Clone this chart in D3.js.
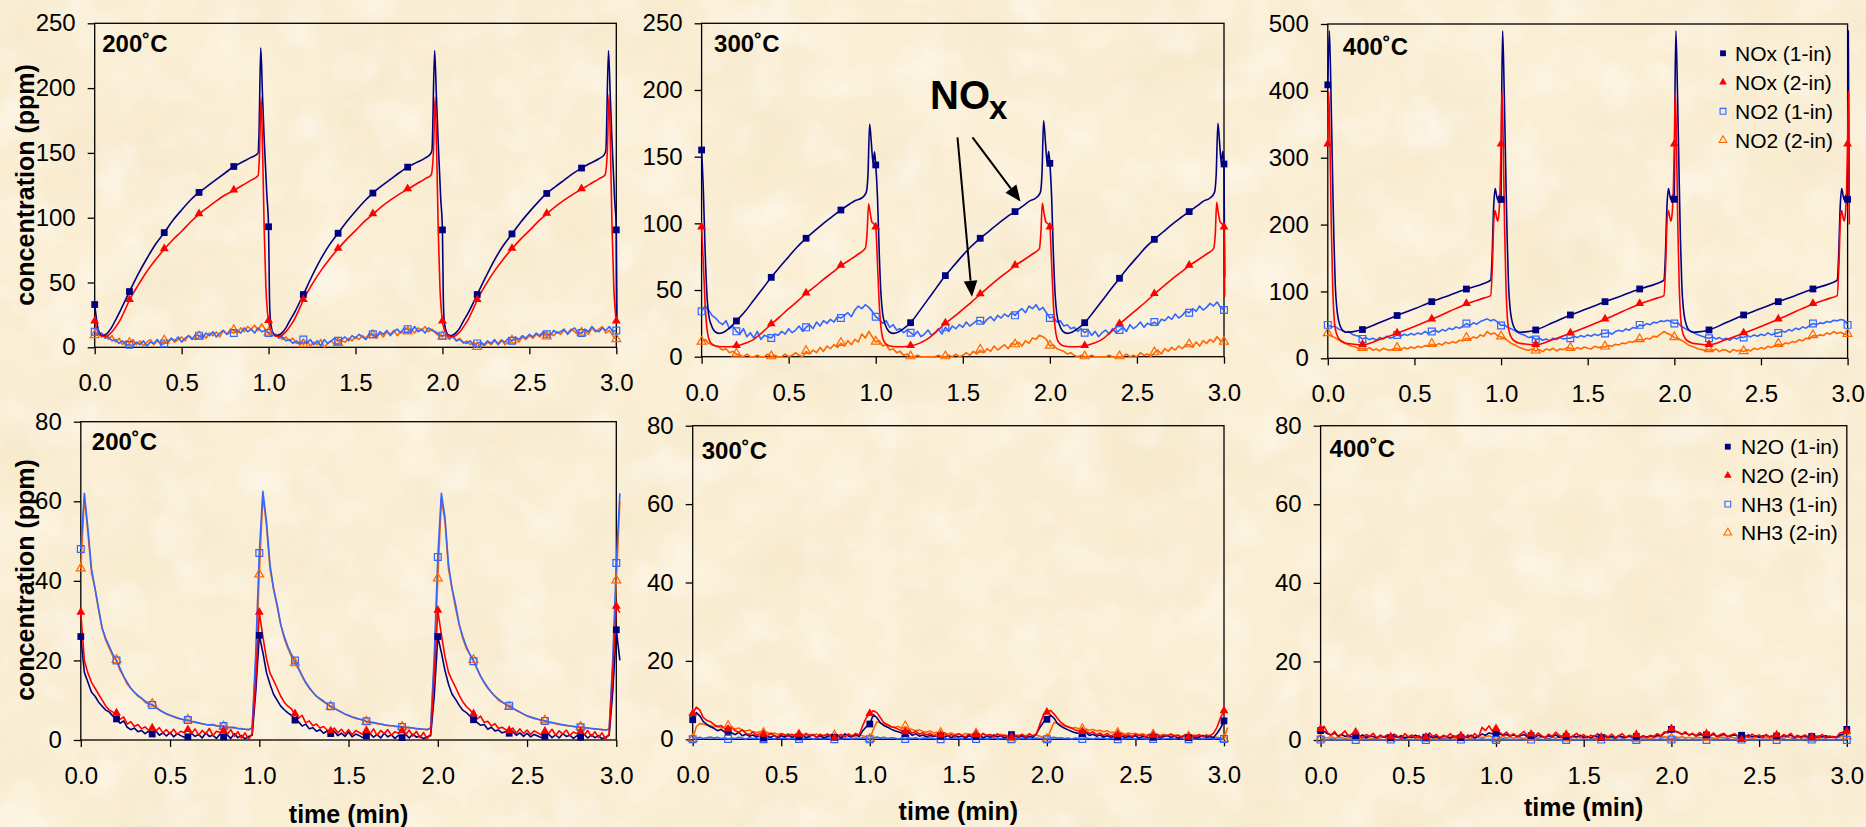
<!DOCTYPE html>
<html><head><meta charset="utf-8">
<script src="https://cdn.jsdelivr.net/npm/d3@7"></script>
<style>
body{margin:0;background:#FAEED4}
svg{display:block}
text{font-family:"Liberation Sans",Arial,sans-serif}
</style>
</head><body>
<svg id="c" width="1866" height="827"></svg>
<script>
// ---------------- DATA ----------------
const xTicks = [0.0, 0.5, 1.0, 1.5, 2.0, 2.5, 3.0];
const yTicksTop = [0, 50, 100, 150, 200, 250];
const yTicks400 = [0, 100, 200, 300, 400, 500];
const yTicksBottom = [0, 20, 40, 60, 80];
const titles = ["200˚C", "300˚C", "400˚C", "200˚C", "300˚C", "400˚C"];
const legendTop = ["NOx (1-in)", "NOx (2-in)", "NO2 (1-in)", "NO2 (2-in)"];
const legendBottom = ["N2O (1-in)", "N2O (2-in)", "NH3 (1-in)", "NH3 (2-in)"];

// --- 200C NOx (time, ppm) ---
const nox1_200 = [[0,33],[0.01,22],[0.02,14],[0.03,10.5],[0.045,9],[0.06,9.5],[0.08,12],[0.1,16],[0.12,21],[0.15,29],[0.2,43],[0.25,56.5],[0.3,68.5],[0.35,79.5],[0.4,88.5],[0.45,98],[0.5,106],[0.55,113.5],[0.6,119.5],[0.65,124.5],[0.7,129.5],[0.75,134.5],[0.8,139.5],[0.85,143],[0.9,146.5],[0.94,150],[0.945,165],[0.955,231],[0.965,195],[0.975,160],[0.99,118],[1.0,93],
 [1.005,40],[1.01,22],[1.02,13],[1.03,10],[1.045,9],[1.06,9.5],[1.08,11.5],[1.1,15],[1.12,20],[1.15,27],[1.2,40.7],[1.25,55],[1.3,68],[1.35,79],[1.4,88],[1.45,97],[1.5,105],[1.55,112.5],[1.6,119],[1.65,124.5],[1.7,129.5],[1.75,134.5],[1.8,139],[1.85,142.5],[1.9,146],[1.93,149],[1.94,152],[1.955,229],[1.965,195],[1.975,160],[1.99,115],[2.0,90.6],
 [2.005,38],[2.01,21],[2.02,13],[2.03,10],[2.045,9],[2.06,9.5],[2.08,11.5],[2.1,15],[2.12,20],[2.15,27],[2.2,40.7],[2.25,54.5],[2.3,67.5],[2.35,78.5],[2.4,87.5],[2.45,96.5],[2.5,104.5],[2.55,112],[2.6,118.7],[2.65,124],[2.7,129],[2.75,134],[2.8,138.3],[2.85,142],[2.9,145.5],[2.93,148.5],[2.94,152],[2.955,229],[2.965,195],[2.975,160],[2.99,115],[3.0,90.6],[3.004,20]];
const nox2_200 = [[0,20],[0.01,15],[0.025,10.5],[0.045,8.5],[0.065,8.5],[0.08,9.5],[0.1,12],[0.125,16.5],[0.15,22],[0.175,29],[0.2,36.5],[0.25,48],[0.3,58.5],[0.35,67.5],[0.4,75.7],[0.45,83],[0.5,89.5],[0.55,96.5],[0.6,102.7],[0.65,108],[0.7,113],[0.75,117.5],[0.8,121],[0.85,125],[0.9,129],[0.94,132.5],[0.948,150],[0.957,193],[0.966,150],[0.975,90],[0.985,45],[0.993,28],[1.0,20.3],
 [1.01,14],[1.025,10],[1.045,8.5],[1.065,8.5],[1.08,9.5],[1.1,12],[1.125,16.5],[1.15,22],[1.175,29],[1.2,36.5],[1.25,48.5],[1.3,59],[1.35,68],[1.4,76],[1.45,83.5],[1.5,90],[1.55,97],[1.6,102.7],[1.65,108.5],[1.7,113.5],[1.75,118],[1.8,122],[1.85,126],[1.9,130],[1.935,133],[1.948,150],[1.958,193],[1.967,150],[1.976,90],[1.986,45],[1.994,28],[2.0,20],
 [2.01,14],[2.025,10],[2.045,8.5],[2.065,8.5],[2.08,9.5],[2.1,12],[2.125,16.5],[2.15,22],[2.175,29],[2.2,36.5],[2.25,48.5],[2.3,59],[2.35,68],[2.4,76],[2.45,83.5],[2.5,90],[2.55,97],[2.6,103],[2.65,108.5],[2.7,113.5],[2.75,118],[2.8,122],[2.85,126],[2.9,130],[2.935,133],[2.948,150],[2.958,195],[2.967,150],[2.976,90],[2.986,45],[2.994,28],[3.0,20]];
// --- 200C NO2, sampled every 0.02 min ---
const no2_1_200 = [
 12,10,11,7,8,5,6,3,5,2,  2,1,4,2,5,1,4,3,6,2,  3,4,7,5,8,4,7,9,6,10,  9,7,11,9,12,8,11,13,10,12,  11,13,11,15,12,14,11,15,12,13,
 11,9,10,7,8,5,6,3,5,2,  6,3,6,2,5,1,6,3,5,7,  5,6,8,5,9,7,10,8,6,11,  10,8,12,10,13,9,12,14,11,15,  14,12,16,12,14,11,15,13,12,10,
 9,10,7,8,5,6,4,3,5,1,  3,4,2,5,3,6,2,5,4,7,  5,8,6,9,7,10,8,11,9,12,  10,9,13,11,12,14,10,13,15,11,  11,14,12,16,13,12,15,13,16,12,
 13];
const no2_2_200 = [
 9,11,8,10,6,9,4,7,2,5,  3,6,2,5,1,4,6,2,5,3,  5,3,7,4,6,8,5,9,7,6,  8,10,7,11,9,12,8,13,10,14,  13,11,15,12,16,14,17,13,18,14,
 11,12,9,10,6,8,5,7,3,4,  2,5,1,4,2,6,0,3,5,2,  3,5,4,7,5,8,6,9,7,10,  9,7,11,8,12,10,13,9,12,11,  12,14,11,15,13,16,12,14,11,9,
 8,10,6,9,5,7,3,5,2,4,  0,3,1,4,2,5,3,6,2,4,  5,7,4,8,6,9,7,10,8,11,  8,11,9,12,10,13,11,14,12,10,  11,13,10,15,12,14,16,11,13,9,
 6];

// --- 300C NOx ---
const nox1_300 = [[0,155],[0.01,125],[0.02,80],[0.03,48],[0.04,32],[0.055,24],[0.075,19],[0.1,17.5],[0.13,18.5],[0.16,21.5],[0.2,26.8],[0.25,34],[0.3,42.5],[0.35,51],[0.4,59.5],[0.45,67.5],[0.5,75],[0.55,82.5],[0.6,88.8],[0.65,94.5],[0.7,100],[0.75,105],[0.8,110],[0.85,114.5],[0.88,117],[0.92,119],[0.945,123],[0.955,135],[0.965,174.5],[0.975,160],[0.985,145],[0.993,153.7],[1.0,143.8],
 [1.01,120],[1.02,78],[1.03,47],[1.04,32],[1.055,24],[1.075,19],[1.1,17.5],[1.13,18.5],[1.16,21],[1.2,25.5],[1.25,34],[1.3,43],[1.35,52],[1.4,60.8],[1.45,68.5],[1.5,76],[1.55,83],[1.6,88.8],[1.65,94],[1.7,99.5],[1.75,104.5],[1.8,108.8],[1.85,113.5],[1.88,116.5],[1.92,119],[1.945,123],[1.955,138],[1.964,177],[1.975,160],[1.985,145],[1.993,154],[2.0,145],
 [2.01,120],[2.02,78],[2.03,47],[2.04,32],[2.055,24],[2.075,19],[2.1,17.5],[2.13,18.5],[2.16,21],[2.2,25.5],[2.25,33.5],[2.3,42],[2.35,50.5],[2.4,58.8],[2.45,67],[2.5,74.5],[2.55,82],[2.6,88],[2.65,93.5],[2.7,99],[2.75,104],[2.8,108.8],[2.85,113.5],[2.88,116.5],[2.92,119],[2.945,123],[2.955,136],[2.965,175],[2.975,160],[2.985,145],[2.993,154],[3.0,144.5],[3.004,60]];
const nox2_300 = [[0,97],[0.01,70],[0.02,40],[0.03,22],[0.04,14],[0.055,10],[0.08,8],[0.12,7.5],[0.16,7.5],[0.2,8],[0.25,10],[0.3,13],[0.35,18.5],[0.4,24.3],[0.45,30],[0.5,36],[0.55,41.5],[0.6,47.5],[0.65,52.5],[0.7,58],[0.75,63],[0.8,68.3],[0.85,72.5],[0.9,77],[0.94,81.2],[0.95,92],[0.959,114.5],[0.968,108],[0.978,101],[0.99,99.5],[1.0,97],
 [1.01,70],[1.02,40],[1.03,22],[1.04,14],[1.055,10],[1.08,8],[1.12,7.5],[1.16,7.5],[1.2,8],[1.25,10],[1.3,13.5],[1.35,19],[1.4,25],[1.45,30],[1.5,35.5],[1.55,41],[1.6,46.8],[1.65,52.5],[1.7,58],[1.75,63],[1.8,68.3],[1.85,72.5],[1.9,77],[1.94,81],[1.948,92],[1.957,115],[1.966,108],[1.977,101],[1.99,99.5],[2.0,97],
 [2.01,70],[2.02,40],[2.03,22],[2.04,14],[2.055,10],[2.08,8],[2.12,7.5],[2.16,7.5],[2.2,8],[2.25,10],[2.3,13],[2.35,18.5],[2.4,24.5],[2.45,30],[2.5,35.5],[2.55,41],[2.6,47],[2.65,52.5],[2.7,58],[2.75,63],[2.8,68.3],[2.85,72.5],[2.9,77],[2.94,81],[2.95,92],[2.958,115.7],[2.967,108],[2.978,101],[2.99,99.5],[3.0,97],[3.004,45]];
const no2_1_300 = [
 34,38,35,31,29,26,24,27,21,23,  19,17,21,15,18,14,19,13,16,15,  14,17,16,19,17,21,18,20,23,19,  22,24,21,26,23,27,25,28,26,30,  29,31,33,30,35,38,36,39,37,34,
 30,28,25,27,22,24,20,21,18,20,  18,16,19,15,17,20,16,18,21,17,  22,19,23,21,24,22,26,23,25,27,  27,25,28,30,27,31,29,32,30,33,  31,34,36,33,38,36,39,35,37,33,
 29,30,26,27,23,24,21,22,19,21,  18,20,16,19,15,18,20,17,21,18,  20,22,19,24,21,23,26,22,25,24,  26,24,28,27,30,28,32,29,31,34,  33,36,34,38,35,37,40,38,41,37,
 35];
const no2_2_300 = [
 11,13,10,9,8,7,5,6,3,4,  2,1,0,2,0,0,1,0,0,2,  0,1,0,0,2,0,1,3,1,0,  4,2,5,3,7,4,8,6,9,7,  10,8,12,9,13,11,17,14,19,15,
 11,12,8,9,5,6,3,4,1,2,  0,0,1,0,0,0,0,0,1,0,  0,1,0,2,0,1,3,1,4,2,  5,3,6,4,8,5,7,9,6,10,  9,11,8,12,10,14,13,16,15,13,
 8,9,6,5,4,2,3,1,0,1,  0,0,1,0,0,0,0,1,0,0,  0,0,2,0,1,0,3,1,2,0,  3,5,2,6,4,7,5,8,6,9,  9,7,11,8,12,10,13,11,15,12,
 11];

// --- 400C NOx ---
const nox1_400 = [[0,409],[0.009,490],[0.018,400],[0.027,280],[0.035,180],[0.043,110],[0.052,75],[0.062,57],[0.075,46],[0.09,41],[0.11,39],[0.14,39.5],[0.2,43],[0.3,53.5],[0.4,64],[0.5,74],[0.6,84.7],[0.7,94],[0.8,103.6],[0.9,112],[0.94,117],[0.948,150],[0.957,225],[0.966,254],[0.975,242],[0.983,236],[0.99,244],[0.995,240],[1.0,237.5],[1.004,400],[1.009,490],
 [1.018,400],[1.027,280],[1.035,180],[1.043,110],[1.052,75],[1.062,57],[1.075,46],[1.09,41],[1.11,39],[1.14,39.5],[1.2,42.4],[1.3,53.5],[1.4,64.8],[1.5,74.5],[1.6,84.7],[1.7,94],[1.8,103.7],[1.9,112],[1.94,117],[1.948,150],[1.957,225],[1.966,254],[1.975,242],[1.983,236],[1.99,244],[1.995,240],[2.0,237.8],[2.004,400],[2.009,490],
 [2.018,400],[2.027,280],[2.035,180],[2.043,110],[2.052,75],[2.062,57],[2.075,46],[2.09,41],[2.11,39],[2.14,39.5],[2.2,42.4],[2.3,53.5],[2.4,64.8],[2.5,74.5],[2.6,84.7],[2.7,94],[2.8,103.7],[2.9,112],[2.94,117],[2.948,150],[2.957,225],[2.966,254],[2.975,242],[2.983,236],[2.99,244],[2.995,240],[3.0,237.8],[3.004,490],[3.009,240]];
const nox2_400 = [[0,320],[0.005,399],[0.012,330],[0.02,200],[0.028,110],[0.036,62],[0.045,42],[0.06,31],[0.08,25.5],[0.1,23],[0.15,21],[0.2,20],[0.3,28],[0.4,37.4],[0.5,47.5],[0.6,58.3],[0.7,70],[0.8,81.3],[0.9,90],[0.94,93.7],[0.95,140],[0.958,205],[0.965,221],[0.973,212],[0.98,205],[0.988,218],[0.995,260],[1.0,320],[1.005,399],
 [1.012,330],[1.02,200],[1.028,110],[1.036,62],[1.045,42],[1.06,31],[1.08,25.5],[1.1,23],[1.15,21],[1.2,20],[1.3,28],[1.4,37.4],[1.5,47.5],[1.6,58.3],[1.7,70],[1.8,81.3],[1.9,90],[1.94,93.7],[1.95,140],[1.958,205],[1.965,221],[1.973,212],[1.98,205],[1.988,218],[1.995,260],[2.0,320],[2.005,399],
 [2.012,330],[2.02,200],[2.028,110],[2.036,62],[2.045,42],[2.06,31],[2.08,25.5],[2.1,23],[2.15,21],[2.2,20],[2.3,28],[2.4,37.4],[2.5,47.5],[2.6,58.3],[2.7,70],[2.8,81.3],[2.9,90],[2.94,93.7],[2.95,140],[2.958,205],[2.965,221],[2.973,212],[2.98,205],[2.988,218],[2.995,260],[3.0,320],[3.005,399],[3.01,200]];
const no2_1_400 = [
 50,47,48,44,42,39,40,36,34,33,  29,31,28,30,27,31,29,33,30,32,  35,33,36,34,37,35,38,36,40,37,  40,42,39,43,41,45,43,47,45,48,  52,49,53,51,55,57,59,56,58,54,
 49,50,46,44,41,38,36,34,31,32,  28,30,27,29,26,30,28,31,29,30,  30,33,31,34,32,35,33,36,34,37,  37,39,36,40,42,40,44,42,46,45,  50,48,52,50,54,53,56,55,57,55,
 52,53,48,45,42,40,37,35,33,31,  30,32,29,31,28,30,27,31,29,32,  31,34,32,35,33,36,34,38,35,37,  38,41,39,43,41,45,43,47,45,49,  52,50,53,52,55,54,57,56,58,57,
 50];
const no2_2_400 = [
 37,33,31,28,25,22,20,18,17,14,  15,13,16,12,14,11,15,13,12,14,  15,13,16,14,17,15,18,16,19,18,  21,19,22,20,24,22,25,23,27,26,  30,28,32,30,35,33,40,36,38,34,
 32,30,26,22,20,17,15,13,12,14,  11,13,10,14,12,15,11,14,13,16,  15,13,16,14,17,15,14,18,16,17,  17,19,18,21,20,23,22,25,24,27,  28,27,30,29,33,32,36,40,37,35,
 31,30,27,24,20,18,16,14,13,12,  13,11,14,10,13,12,9,13,11,12,  10,13,11,15,13,16,14,18,16,19,  21,19,23,22,25,24,28,26,30,29,  34,33,35,34,38,36,40,37,39,36,
 36];

// --- 200C N2O / NH3, every 0.02 min ---
const n2o_1_200 = [
 26,17,14.5,12,11,9.5,8.5,7.5,7,6,  5.3,4.2,4.8,3.2,2.6,3,2.1,2.4,1.6,2.2,  1.5,2.3,1.2,1.8,1,1.9,0.8,1.6,1.1,0.7,  0.8,1.7,0.9,1.4,0.5,1.8,0.9,1.2,0.4,1.5,  0.8,1.3,0.4,1.6,0.6,1.1,0.3,0.9,1.2,12,
 26.3,22,17,14,11.5,10,8.5,7.6,6.8,6.2,  5,4.6,3.5,4,2.8,3.1,2.2,2.6,1.7,2.3,  1.6,2.2,1.1,1.7,0.9,2,0.8,1.5,1.1,0.6,  1,1.6,0.7,1.4,0.5,1.7,0.8,1.3,0.4,1.2,  0.6,1.4,0.5,1.5,0.7,1,0.3,0.8,1.1,11,
 26,22,17.5,14,11.5,10.2,8.7,7.5,6.9,6,  5.1,4.4,3.7,3.9,2.7,3.2,2.3,2.5,1.8,2.1,  1.7,2.1,1.2,1.8,0.9,1.7,0.8,1.4,1,0.6,  0.9,1.5,0.6,1.3,0.5,1.6,0.9,1.2,0.4,1.1,  0.7,1.4,0.5,1.3,0.6,1.1,0.3,0.7,1.2,12,
 27.7,20];
const n2o_2_200 = [
 32,20,16.8,14.5,13,11.5,10,8.5,7.5,7,  6.7,5.2,5.8,4,4.6,3.4,3.9,2.8,3.3,2.4,  2.9,2.2,3.1,1.8,2.6,1.5,2.7,1.4,2.2,1.8,  2.5,1.6,2.8,1.2,2.4,1.5,2.9,1.1,2.2,1.9,  2.3,1.3,2.6,0.9,2.1,0.5,1.8,0.2,1.6,15,
 32,26,20.5,16.8,15,13,11,9.5,8.5,7.8,  6.5,5.5,6.2,4.3,4.8,3.6,4,3,3.4,2.5,  2.2,3,1.8,2.7,1.5,2.6,1.3,2.4,1.9,1.4,  2.3,1.5,2.8,1.1,2.4,1.6,2.6,1.2,2.1,1.7,  2.2,1.3,2.5,1,2.2,0.6,1.9,0.3,1.5,16,
 32.5,26.5,21,17,15,13.2,11.2,9.6,8.4,7.6,  6.5,5.3,6,4.4,4.7,3.5,4.1,2.9,3.2,2.6,  2.3,3,1.7,2.8,1.6,2.5,1.4,2.3,1.8,1.3,  2.1,1.6,2.7,1.2,2.3,1.5,2.5,1.1,2,1.6,  2,1.2,2.4,0.9,2.1,0.6,1.8,0.3,1.5,17,
 33.5,32];
const nh3_1_200 = [
 48,62,53,43,38,33,28,25.5,23.5,21.5,  20,18,16,14.5,13,12,11.2,10.5,9.8,9.2,  8.8,8.2,7.6,7,6.6,6.2,5.9,5.6,5.3,5.1,  5,4.7,4.5,4.3,4.1,3.9,3.8,3.9,3.6,3.5,  3.5,3.2,3.1,3.2,2.9,2.8,2.7,2.6,3,22,
 47,62.5,55,44,38,34,29,26,23.5,21.5,  20,18,16.2,14.5,13.2,12,11,10.4,9.8,9,  8.5,8,7.5,7,6.5,6.2,5.8,5.5,5.3,5,  4.7,4.5,4.4,4.2,4,3.8,3.7,3.6,3.5,3.4,  3.3,3.2,3.1,3,2.9,2.8,2.7,2.6,3,21,
 46,62,56,44,38,34,29,26,23.5,21.5,  19.8,18,16,14.5,13.2,12,11,10.3,9.6,9,  8.6,8,7.5,7,6.5,6.1,5.8,5.5,5.2,5,  4.8,4.6,4.4,4.2,4,3.8,3.7,3.5,3.4,3.3,  3.2,3.1,3,2.9,2.8,2.7,2.6,2.5,2.7,20,
 44.5,62];
const nh3_2_200 = [
 43,61,52,42,38,32.5,28,25,23,21,  20,17.5,16,14,13,12,11,10.5,9.5,9,  9,8.2,7.5,7.1,6.5,6.2,5.8,5.5,5.3,5,  5,4.6,4.5,4.2,4.1,3.9,3.7,3.8,3.5,3.4,  3.3,3.2,3.2,3,2.9,2.9,2.7,2.6,3,19,
 41.5,61.5,54,43,38,33.5,29,25.5,23,21,  19.2,17.8,16,14.3,13,12,11,10.2,9.6,9,  8.3,8,7.4,7,6.5,6.1,5.8,5.5,5.2,5,  4.5,4.5,4.3,4.1,4,3.8,3.6,3.6,3.4,3.3,  3.2,3.1,3.1,3,2.8,2.8,2.7,2.6,3,19,
 40.5,60.5,55,43,38,33,29,25.5,23,21.5,  20,17.8,16,14.4,13,12,11,10,9.5,9,  8.2,8,7.4,7,6.5,6,5.7,5.4,5.2,5,  4.8,4.5,4.3,4.1,3.9,3.8,3.6,3.5,3.4,3.3,  3.2,3.1,3,2.9,2.8,2.7,2.6,2.5,2.7,18,
 40,60];

// --- 300C N2O / NH3 ---
const n2o_1_300 = [
 5,6.8,6,4.5,3.8,3.2,2.8,2.2,2.5,1.9,  2,1.6,1.2,1.8,0.9,1.3,0.8,1.1,0.6,1,  0.3,0.8,0.5,1,0.4,0.9,0.6,1.1,0.5,0.8,  0.6,1,0.4,0.8,1.2,0.5,0.9,0.3,0.7,1,  0.5,0.9,0.3,1.4,0.8,0.6,1.2,0.7,2.2,3.2,
 3.9,6.3,5.5,4.2,3.5,3.1,2.6,2.2,1.9,1.6,  1.4,1.8,1,1.4,0.8,1.1,0.6,1,0.7,0.9,  0.8,0.5,0.9,0.4,1,0.6,0.8,0.3,0.9,0.5,  0.7,1,0.4,0.8,0.5,1.1,0.6,0.9,0.4,0.7,  1.2,0.8,0.5,0.9,0.4,0.7,0.5,1.4,3,4.3,
 5.1,6.2,5.4,4,3.3,2.8,2.4,2,1.7,1.5,  1.4,1.7,1,1.3,0.8,1.1,0.6,0.9,0.5,0.8,  0.6,1,0.4,0.8,0.5,0.9,0.3,0.7,0.6,0.4,  0.5,0.9,0.4,0.7,1,0.5,0.8,0.3,0.6,0.9,  0.4,0.7,0.3,0.6,0.9,0.5,0.7,0.4,1.5,2.8,
 4.7];
const n2o_2_300 = [
 6.5,8.2,7.5,5.5,4.8,4.5,3.8,3.2,3.5,2.8,  2.5,3.2,2.2,1.8,2.4,1.5,1.2,1.9,1,1.5,  1.2,0.8,1.6,1,0.6,1.4,1.1,0.7,1.3,0.9,  1.2,0.6,1.5,0.9,1.1,0.5,1.3,0.8,1.4,0.7,  0.3,0.9,1.2,0.6,1.4,0.8,1.5,1.1,3.5,5.5,
 6.5,7.3,6.8,5.5,4.2,3.8,3.2,3,2.6,2.2,  1.8,2.4,1.6,2,1.3,1.7,1.1,1.5,0.9,1.3,  1,1.6,0.8,1.2,0.7,1.4,1,0.6,1.3,0.9,  1.1,0.7,1.5,0.9,1.2,0.6,1.4,0.8,1.1,0.6,  0.5,1.1,0.7,1.3,0.5,1.4,0.9,1.2,3.8,6.2,
 6.8,7.4,6.5,5.3,4.3,3.6,3.2,2.8,2.4,2.1,  1.9,2.3,1.5,1.9,1.2,1.6,1,1.5,0.8,1.3,  1.1,1.5,0.8,1.2,0.7,1.3,0.9,1.1,0.6,1.2,  0.9,1.3,0.6,1.1,0.8,1.4,0.7,1,0.5,1.2,  0.4,1,0.7,1.2,0.6,1.1,0.9,1.5,3,5.5,
 7.2];
const nh3_1_300 = [
 0,0.3,0.5,0.2,0.4,0.6,0.3,0.5,0.2,0.4,  0.1,0.3,0.2,0.5,0.3,0.1,0.4,0.2,0.3,0.1,  0,0.2,0.4,0.1,0.3,0.2,0.4,0.1,0.2,0.3,  0.1,0.3,0.2,0.4,0.1,0.3,0.2,0.1,0.3,0.2,  0,0.2,0.1,0.3,0.2,0.1,0.3,0.2,0.4,0.2,
 0,0.4,0.6,0.3,0.5,0.2,0.4,0.3,0.1,0.3,  0.1,0.3,0.2,0.4,0.1,0.3,0.2,0.4,0.2,0.1,  0,0.3,0.1,0.2,0.4,0.2,0.1,0.3,0.2,0.1,  0.1,0.2,0.3,0.1,0.2,0.4,0.1,0.2,0.3,0.1,  0,0.2,0.1,0.3,0.2,0.1,0.2,0.3,0.2,0.3,
 0,0.4,0.5,0.3,0.4,0.2,0.3,0.1,0.3,0.2,  0.1,0.3,0.2,0.1,0.3,0.2,0.4,0.1,0.2,0.3,  0,0.2,0.1,0.3,0.2,0.1,0.3,0.2,0.1,0.2,  0.1,0.3,0.2,0.1,0.2,0.3,0.1,0.2,0.3,0.1,  0,0.2,0.1,0.3,0.1,0.2,0.3,0.1,0.2,0.3,
 0.1];
const nh3_2_300 = [
 0,3.2,4,3.9,3.6,3.5,3.2,3.4,2.9,3.1,  3.3,2.8,2.6,2.9,2.3,2.1,2.4,1.9,1.7,2,  1.5,1.8,1.3,1.6,1.2,1.5,1.1,1.4,1,1.3,  1,1.3,0.9,1.2,1,1.4,0.8,1.1,0.9,1.2,  0.9,1.1,0.8,1.2,0.9,1,0.8,1.1,0.9,0.6,
 0,2.5,4.5,4.2,3.8,3.5,3.2,3,3.3,2.8,  3.2,2.7,2.5,2.2,2.4,2,1.8,2.1,1.6,1.8,  1.5,1.7,1.3,1.6,1.2,1.4,1.1,1.5,1.2,1.3,  1.4,1.1,1.3,1,1.2,0.9,1.1,1.3,0.9,1,  0.2,0.9,1.1,0.8,1,0.7,0.9,1.1,0.8,0.5,
 0,2.2,4.3,4.1,3.7,3.4,3.1,2.9,3,2.7,  2.5,2.6,2.3,2.5,2.1,2.3,1.9,2.2,1.7,1.8,  1.5,1.7,1.3,1.6,1.4,1.5,1.2,1.4,1.1,1.3,  1.1,1.3,1,1.2,0.9,1.2,1,1.1,0.8,1,  0.6,0.9,1.1,0.8,1,0.7,0.9,0.6,0.5,0.3,
 0,3];

// --- 400C N2O / NH3 ---
const n2o_1_400 = [
 2.4,2.2,1.6,1.3,1.8,1,1.4,0.9,1.2,0.7,  1.1,0.8,1.3,0.6,1,0.9,0.5,1.2,0.7,0.9,  0.6,1,0.7,1.1,0.5,0.9,0.6,1.2,0.8,0.5,  0.7,1,0.6,0.9,0.4,1.1,0.8,0.5,1,0.7,  0.6,0.9,0.7,1.2,0.5,1,1.5,1.2,1.8,1.6,
 1.8,1.5,1.2,1.4,1,1.3,0.9,1.1,1.4,0.8,  1.1,0.7,1.2,0.9,0.6,1.1,0.8,1.3,0.7,1,  0.9,0.6,1,0.8,1.2,0.7,0.9,0.5,1,0.8,  0.6,1,0.7,0.9,0.5,1.1,0.8,0.6,1,0.7,  0.9,0.6,1,0.7,1.1,0.8,1.2,1,1.8,2.1,
 2.7,2.2,1.9,1.5,1.8,1.3,1.6,1.1,1.4,1.2,  1.3,1,1.5,0.8,1.2,1.4,0.9,1.1,1.3,1,  1.2,0.9,1.3,0.8,1.1,0.7,1,1.2,0.8,1,  1,0.7,1.1,0.9,1.3,0.6,1,0.8,1.1,0.7,  0.9,0.6,1,0.8,1.1,0.7,0.9,0.6,1.2,1.5,
 2.7];
const n2o_2_400 = [
 2.7,3.5,1.8,1.2,2.2,0.8,1.5,2.3,0.9,1.6,  1.9,1.1,0.6,1.4,0.9,1.7,0.5,1.2,0.8,1.3,  0.7,1.5,0.9,0.4,1.6,0.8,1.3,0.6,1.1,0.5,  0.6,1.8,0.9,1.4,0.5,1.2,0.8,1.6,0.7,1.1,  0.9,0.5,1.3,0.8,1.6,0.7,3.2,2.4,3.6,2.2,
 2.8,1.9,1.3,2,1,1.6,0.8,1.5,2.2,1,  1.4,0.8,1.8,1.1,0.6,1.5,0.9,2,1.2,0.7,  1.3,0.6,1.1,1.7,0.8,1.4,0.5,1.2,0.9,1.6,  0.4,1.3,0.8,1.5,0.6,1.1,1.6,0.7,1.2,0.9,  1.3,0.7,1.1,0.5,1.2,0.9,1.6,1.1,2.1,1.8,
 2.8,2.3,2,1.4,2.1,1.2,1.7,1,1.9,1.3,  1.5,1.1,1.8,0.9,1.4,1.7,0.8,1.3,1.6,0.9,  0,1.2,0.7,1.5,0.9,1.3,0.6,1.4,0.8,1.1,  1.2,0.6,1.4,0.9,1.7,0.7,1.2,0.5,1.3,0.8,  0.6,1.1,0.7,1.4,0.5,1,0.8,0.6,1.8,2,
 2.1];
const nh3_1_400 = [
 0.1,0.2,0,0.3,0.1,0.2,0.1,0,0.2,0.1,  0,0.2,0.1,0.3,0,0.1,0.2,0.1,0,0.2,  0.1,0,0.2,0.1,0.3,0.1,0,0.2,0.1,0,  0,0.1,0.2,0,0.1,0.3,0.1,0.2,0,0.1,  0.1,0.2,0,0.1,0.2,0.1,0.3,0.1,0.2,0.1,
 0,0.2,0.3,0.1,0.2,0,0.1,0.2,0.1,0,  0.1,0,0.2,0.1,0,0.3,0.1,0.2,0,0.1,  0,0.1,0.2,0,0.1,0.2,0.1,0,0.2,0.1,  0.1,0.2,0,0.1,0.3,0.1,0.2,0,0.1,0.2,  0,0.1,0.2,0.1,0,0.2,0.1,0.3,0.1,0.2,
 0.1,0.3,0.2,0.1,0.2,0,0.1,0.2,0.1,0,  0,0.2,0.1,0,0.2,0.1,0.3,0,0.1,0.2,  0.1,0,0.2,0.1,0,0.2,0.1,0.2,0,0.1,  0,0.1,0.2,0,0.1,0.3,0.1,0,0.2,0.1,  0.1,0.2,0,0.1,0.2,0.1,0,0.2,0.1,0.2,
 0];
const nh3_2_400 = [
 0.2,0.7,0.5,0.9,0.4,0.8,0.6,0.3,0.7,0.5,  0.8,0.4,0.6,0.9,0.5,0.3,0.7,0.5,0.8,0.4,  0.3,0.6,0.8,0.4,0.7,0.5,0.9,0.4,0.6,0.3,  0.2,0.5,0.7,0.4,0.8,0.6,0.3,0.7,0.5,0.4,  0.6,0.8,0.5,0.3,0.7,0.9,0.6,0.8,1.1,0.7,
 0.1,0.6,0.9,0.5,0.8,0.4,0.7,0.6,0.3,0.8,  0.5,0.7,0.4,0.9,0.6,0.3,0.8,0.5,0.7,0.4,  0.3,0.6,0.8,0.5,0.7,0.4,0.9,0.6,0.3,0.7,  0.4,0.6,0.3,0.7,0.5,0.8,0.4,0.6,0.9,0.5,  0.2,0.7,0.5,0.8,0.4,0.6,0.9,0.7,0.8,0.6,
 0.3,0.8,0.6,0.9,0.5,0.7,0.4,0.8,0.6,0.5,  0.4,0.7,0.5,0.3,0.8,0.6,0.4,0.7,0.5,0.6,  0.3,0.5,0.8,0.4,0.6,0.9,0.5,0.7,0.4,0.6,  0.5,0.7,0.4,0.8,0.6,0.3,0.7,0.5,0.8,0.4,  0.2,0.6,0.4,0.7,0.5,0.8,0.6,0.9,0.7,1.2,
 0.8];

// ---------------- STYLE / LAYOUT ----------------
const STEP = 0.02; // sampling interval of the regularly sampled traces (min)
const styles = {
  navy:   {color:"#000080", shape:"square",   filled:true},
  red:    {color:"#FF0000", shape:"triangle", filled:true},
  blue:   {color:"#3366FF", shape:"square",   filled:false},
  orange: {color:"#FF6600", shape:"triangle", filled:false}
};
const panels = [
  {left:94.7, right:616.3, top:23.3, bottom:347.3, yTicks:yTicksTop, title:titles[0], tdx:7.5, tdy:28.5,
   series:[[no2_2_200,"orange"],[no2_1_200,"blue"],[nox1_200,"navy"],[nox2_200,"red"]], yLabelY:185},
  {left:701.6, right:1224, top:23.3, bottom:356.7, yTicks:yTicksTop, title:titles[1], tdx:12.5, tdy:28.5,
   series:[[no2_2_300,"orange"],[no2_1_300,"blue"],[nox1_300,"navy"],[nox2_300,"red"]]},
  {left:1327.8, right:1847.6, top:24, bottom:358.3, yTicks:yTicks400, title:titles[2], tdx:15, tdy:31,
   series:[[no2_2_400,"orange"],[no2_1_400,"blue"],[nox1_400,"navy"],[nox2_400,"red"]],
   legend:{names:legendTop, mx:1723, tx:1735, y0:53.3, dy:29}},
  {left:80.8, right:616.3, top:421.7, bottom:740, yTicks:yTicksBottom, title:titles[3], tdx:11, tdy:28.5,
   series:[[nh3_2_200,"orange"],[nh3_1_200,"blue"],[n2o_1_200,"navy"],[n2o_2_200,"red"]], yLabelY:580, xLabelY:823},
  {left:692.7, right:1224, top:425.7, bottom:739.3, yTicks:yTicksBottom, title:titles[4], tdx:9, tdy:33.5,
   series:[[nh3_2_300,"orange"],[nh3_1_300,"blue"],[n2o_1_300,"navy"],[n2o_2_300,"red"]], xLabelY:820},
  {left:1320.6, right:1846.8, top:425.7, bottom:740, yTicks:yTicksBottom, title:titles[5], tdx:9, tdy:31,
   series:[[nh3_2_400,"orange"],[nh3_1_400,"blue"],[n2o_1_400,"navy"],[n2o_2_400,"red"]],
   legend:{names:legendBottom, mx:1727.8, tx:1741, y0:446.7, dy:28.7}, xLabelY:816}
];

// ---------------- DRAW ----------------
const svg = d3.select("#c");
const defs = svg.append("defs");
const flt = defs.append("filter").attr("id","paper").attr("x",0).attr("y",0).attr("width","100%").attr("height","100%");
flt.append("feTurbulence").attr("type","fractalNoise").attr("baseFrequency","0.010").attr("numOctaves",4).attr("seed",11).attr("result","n");
flt.append("feColorMatrix").attr("in","n").attr("type","matrix")
   .attr("values","0 0 0 0 0.88  0 0 0 0 0.77  0 0 0 0 0.55  0.9 0 0 0 -0.38");
const flt2 = defs.append("filter").attr("id","paper2").attr("x",0).attr("y",0).attr("width","100%").attr("height","100%");
flt2.append("feTurbulence").attr("type","fractalNoise").attr("baseFrequency","0.02").attr("numOctaves",3).attr("seed",4).attr("result","n");
flt2.append("feColorMatrix").attr("in","n").attr("type","matrix")
   .attr("values","0 0 0 0 1  0 0 0 0 0.99  0 0 0 0 0.95  0 1.1 0 0 -0.5");
svg.append("rect").attr("width",1866).attr("height",827).attr("fill","#FAEED4");
svg.append("rect").attr("width",1866).attr("height",827).attr("fill","#fff").attr("filter","url(#paper)");
svg.append("rect").attr("width",1866).attr("height",827).attr("fill","#fff").attr("filter","url(#paper2)");

function toPoints(d){
  if (Array.isArray(d[0])) return d;
  return d.map((v,i)=>[i*STEP, v]);
}
function isMarkerTime(t){ return t <= 3.0001 && Math.abs(t*5 - Math.round(t*5)) < 1e-6; }
function symPath(shape, size){
  return d3.symbol().type(shape==="square" ? d3.symbolSquare : d3.symbolTriangle).size(size)();
}
const FONT = '"Liberation Sans", Arial, sans-serif';

panels.forEach(p => {
  const g = svg.append("g");
  const x = d3.scaleLinear().domain([0,3]).range([p.left,p.right]);
  const ymax = p.yTicks[p.yTicks.length-1];
  const y = d3.scaleLinear().domain([0,ymax]).range([p.bottom,p.top]);

  const gx = g.append("g").attr("transform",`translate(0,${p.bottom})`)
    .call(d3.axisBottom(x).tickValues(xTicks).tickFormat(d3.format(".1f")).tickSize(7).tickPadding(20));
  const gy = g.append("g").attr("transform",`translate(${p.left},0)`)
    .call(d3.axisLeft(y).tickValues(p.yTicks).tickFormat(d3.format("d")).tickSize(7).tickPadding(12));
  [gx,gy].forEach(a=>{
    a.select(".domain").remove();
    a.selectAll(".tick line").attr("stroke","#000").attr("stroke-width",1.3);
    a.selectAll(".tick text").attr("fill","#000").style("font-family",FONT).style("font-size","24px");
  });

  g.append("rect").attr("x",p.left).attr("y",p.top).attr("width",p.right-p.left).attr("height",p.bottom-p.top)
    .attr("fill","none").attr("stroke","#000").attr("stroke-width",1.3);

  const line = d3.line().x(d=>x(d[0])).y(d=>y(d[1]));
  p.series.forEach(([data,key])=>{
    const st = styles[key];
    const pts = toPoints(data);
    const smooth = Array.isArray(data[0]);
    g.append("path").datum(pts)
      .attr("d", line.curve(smooth ? d3.curveMonotoneX : d3.curveLinear))
      .attr("fill","none").attr("stroke",st.color).attr("stroke-width",1.6).attr("stroke-linejoin","round");
  });
  p.series.forEach(([data,key])=>{
    const st = styles[key];
    const pts = toPoints(data).filter(d=>isMarkerTime(d[0]));
    const size = st.shape==="square" ? 46 : 34;
    g.selectAll(null).data(pts).enter().append("path")
      .attr("d", symPath(st.shape, size))
      .attr("transform", d=>`translate(${x(d[0])},${y(d[1]) + (st.shape==="triangle"?-0.5:0)})`)
      .attr("fill", st.filled ? st.color : "none")
      .attr("stroke", st.color).attr("stroke-width", st.filled ? 0 : 1.2);
  });

  g.append("text").attr("x",p.left+p.tdx).attr("y",p.top+p.tdy)
    .style("font-family",FONT).style("font-size","24px").style("font-weight","bold").attr("fill","#000").text(p.title);

  if (p.yLabelY !== undefined){
    g.append("text").attr("transform",`translate(25,${p.yLabelY}) rotate(-90)`)
      .attr("text-anchor","middle").attr("dy","0.35em")
      .style("font-family",FONT).style("font-size","25px").style("font-weight","bold").attr("fill","#000")
      .text("concentration (ppm)");
  }
  if (p.xLabelY !== undefined){
    g.append("text").attr("x",(p.left+p.right)/2).attr("y",p.xLabelY).attr("text-anchor","middle")
      .style("font-family",FONT).style("font-size","25px").style("font-weight","bold").attr("fill","#000")
      .text("time (min)");
  }
  if (p.legend){
    const L = p.legend;
    const order = ["navy","red","blue","orange"];
    L.names.forEach((name,i)=>{
      const st = styles[order[i]];
      const cy = L.y0 + i*L.dy;
      g.append("path").attr("d", symPath(st.shape, st.shape==="square"?34:26))
        .attr("transform",`translate(${L.mx},${cy})`)
        .attr("fill", st.filled ? st.color : "none")
        .attr("stroke", st.color).attr("stroke-width", st.filled?0:1.1);
      g.append("text").attr("x",L.tx).attr("y",cy).attr("dy","0.36em")
        .style("font-family",FONT).style("font-size","21px").attr("fill","#000").text(name);
    });
  }
});

// NOx annotation in the 300C panel
const ann = svg.append("g");
ann.append("text").attr("x",930).attr("y",108.5)
  .style("font-family",FONT).style("font-size","40px").style("font-weight","bold").attr("fill","#000").text("NO");
ann.append("text").attr("x",989).attr("y",118.5)
  .style("font-family",FONT).style("font-size","33px").style("font-weight","bold").attr("fill","#000").text("x");
const arrows = [[957.5,137.3,972,296.7],[972.5,137.3,1020.5,201.5]];
arrows.forEach(([x1,y1,x2,y2])=>{
  const ang = Math.atan2(y2-y1,x2-x1), len = 16, hw = 6.8;
  const bx = x2 - len*Math.cos(ang), by = y2 - len*Math.sin(ang);
  ann.append("line").attr("x1",x1).attr("y1",y1).attr("x2",bx).attr("y2",by).attr("stroke","#000").attr("stroke-width",2);
  const px = -Math.sin(ang)*hw, py = Math.cos(ang)*hw;
  ann.append("polygon").attr("points",`${x2},${y2} ${bx+px},${by+py} ${bx-px},${by-py}`).attr("fill","#000");
});
</script>
</body></html>
